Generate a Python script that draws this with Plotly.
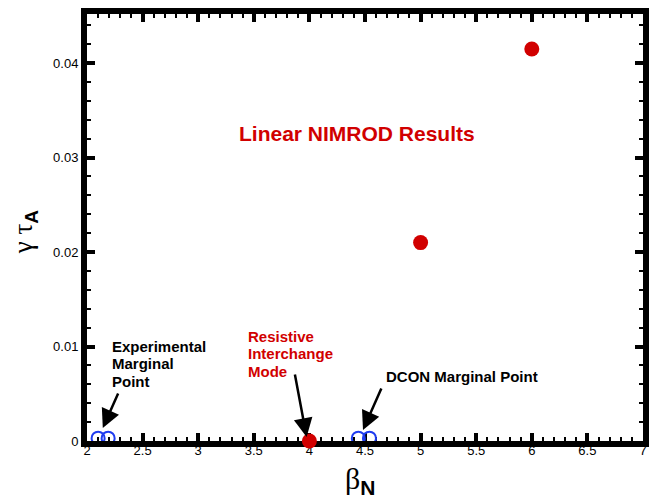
import plotly.graph_objects as go

# Linear NIMROD growth rates vs normalized beta
beta_nimrod = [4.0, 5.0, 6.0]
gamma_nimrod = [0.0, 0.021, 0.0415]

# Marginal points (experimental and DCON), sitting on the zero line
beta_marginal = [2.1, 2.19, 4.44, 4.54]
gamma_marginal = [0.0003, 0.0003, 0.0003, 0.0003]

x_range = [2, 7]
y_range = [0, 0.0452]

RED = "#d10000"
BLUE = "#1f3cf0"
BOLD = "Liberation Sans"

fig = go.Figure()

fig.add_trace(go.Scatter(
    x=beta_marginal, y=gamma_marginal, mode="markers",
    marker=dict(symbol="circle-open", size=13, color=BLUE, line=dict(width=2, color=BLUE)),
    cliponaxis=True, showlegend=False, hoverinfo="skip",
))
fig.add_trace(go.Scatter(
    x=beta_nimrod, y=gamma_nimrod, mode="markers",
    marker=dict(symbol="circle", size=15, color=RED),
    cliponaxis=False, showlegend=False,
))

axis_common = dict(
    showline=True, linewidth=6, linecolor="black", mirror="allticks",
    ticks="inside", ticklen=8, tickwidth=4, tickcolor="black",
    showgrid=False, zeroline=False, layer="below traces",
    tickfont=dict(family="Liberation Sans", size=13, color="black"),
)

fig.update_xaxes(range=x_range, dtick=0.5, tick0=2, ticklabelstandoff=-8,
                 minor=dict(ticks="inside", ticklen=4, tickwidth=2, dtick=0.1, tickcolor="black", showgrid=False),
                 **axis_common)
fig.update_yaxes(range=y_range, dtick=0.01, tick0=0,
                 minor=dict(ticks="inside", ticklen=4, tickwidth=2, dtick=0.002, tickcolor="black", showgrid=False),
                 **axis_common)

annotations = []

# Headline label
annotations.append(dict(
    x=4.43, y=0.0325, xref="x", yref="y", text="<b>Linear NIMROD Results</b>",
    showarrow=False, font=dict(family=BOLD, size=21, color=RED),
))

# Multi-line callouts, one annotation per line
exp_lines = ["Experimental", "Marginal", "Point"]
exp_y = [0.01000, 0.00816, 0.00632]
for txt, yy in zip(exp_lines, exp_y):
    annotations.append(dict(x=2.205, y=yy, xref="x", yref="y", text="<b>%s</b>" % txt,
                            xanchor="left", showarrow=False,
                            font=dict(family=BOLD, size=15, color="black")))

res_lines = ["Resistive", "Interchange", "Mode"]
res_y = [0.01105, 0.00921, 0.00737]
for txt, yy in zip(res_lines, res_y):
    annotations.append(dict(x=3.432, y=yy, xref="x", yref="y", text="<b>%s</b>" % txt,
                            xanchor="left", showarrow=False,
                            font=dict(family=BOLD, size=15, color=RED)))

annotations.append(dict(x=4.668, y=0.00684, xref="x", yref="y", text="<b>DCON Marginal Point</b>",
                        xanchor="left", showarrow=False,
                        font=dict(family=BOLD, size=15, color="black")))

# Arrows pointing at the marked points
arrows = [
    dict(x=2.142, y=0.00137, ax=16, ay=-36),
    dict(x=3.975, y=0.00042, ax=-12, ay=-64),
    dict(x=4.482, y=0.00116, ax=19, ay=-43),
]
for a in arrows:
    annotations.append(dict(x=a["x"], y=a["y"], xref="x", yref="y", text="",
                            showarrow=True, ax=a["ax"], ay=a["ay"],
                            arrowhead=2, arrowsize=1.5, arrowwidth=2.5, arrowcolor="black",
                            standoff=0, startstandoff=0))

# Axis titles
annotations.append(dict(
    x=0.491, y=-0.093, xref="paper", yref="paper", showarrow=False,
    text="β<sub><b><span style='font-family:Liberation Sans'>N</span></b></sub>",
    font=dict(family="Liberation Serif", size=30, color="black"),
    xanchor="center", yanchor="middle",
))
annotations.append(dict(
    x=-0.110, y=0.491, xref="paper", yref="paper", showarrow=False, textangle=-90,
    text="γ τ<sub><b><span style='font-family:Liberation Sans'>A</span></b></sub>",
    font=dict(family="Liberation Serif", size=27, color="black"),
    xanchor="center", yanchor="middle",
))

fig.update_layout(
    width=657, height=499,
    margin=dict(l=87, r=8, t=11, b=58),
    paper_bgcolor="white", plot_bgcolor="white",
    annotations=annotations,
    showlegend=False,
)

fig.write_html("out.html")
